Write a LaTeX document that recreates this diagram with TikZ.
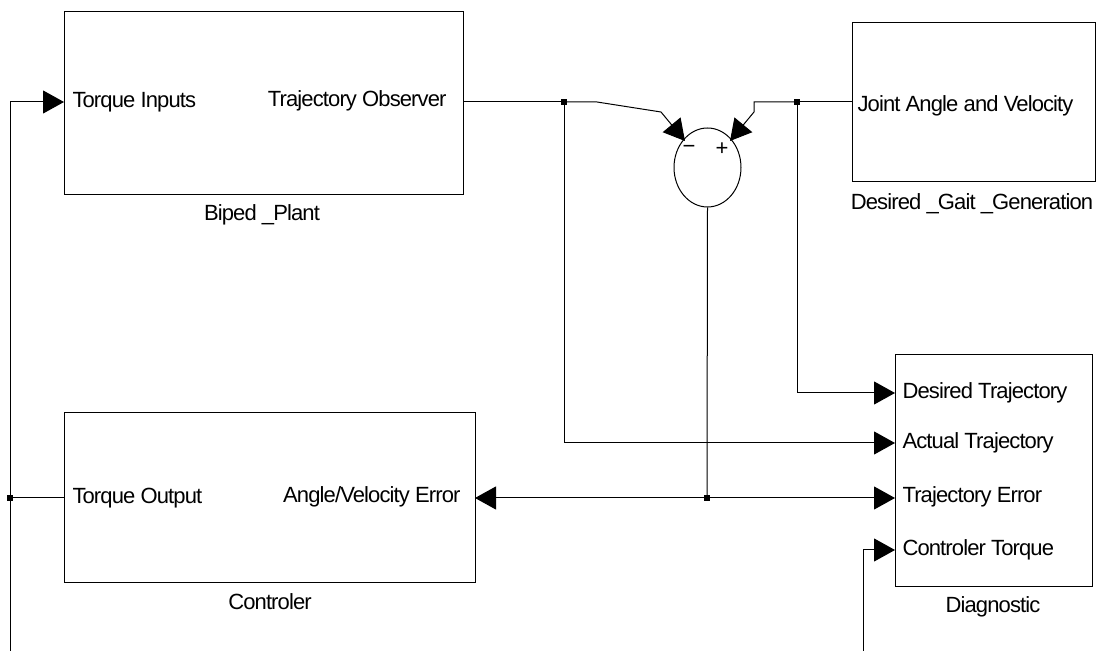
\documentclass[tikz,border=0pt]{standalone}
\usepackage{fontspec}
\setmainfont{Liberation Sans}[LetterSpace=-4]
\usetikzlibrary{arrows.meta,shapes.geometric}

\begin{document}
\begin{tikzpicture}[x=0.5pt, y=-0.5pt, line width=0.5pt,
		font=\fontsize{11pt}{13pt}\selectfont,
		>={Triangle[length=10.5pt,width=11.5pt]},
		block/.style={draw, inner sep=0pt, outer sep=0pt},
		port/.style={inner sep=0pt},
		dot/.style={fill, inner sep=0pt, outer sep=0pt, minimum size=2.8pt}]
		\useasboundingbox (0,0) rectangle (1099,651);
		% blocks
		\node[block, minimum width=199.5pt, minimum height=91.5pt] (plant) at (263.5,103.5) {};
		\node[block, minimum width=121.5pt, minimum height=79.5pt] (gait) at (973.5,102.5) {};
		\node[block, minimum width=205.5pt, minimum height=85pt] (ctrl) at (269.5,498) {};
		\node[block, minimum width=98.5pt, minimum height=116pt] (diag) at (993.5,471) {};
		\node[draw, ellipse, inner sep=0pt, minimum width=33.5pt, minimum height=39.5pt] (sum) at (707.5,167.5) {};
		% block names
		\node (plantname) at (262,215) {Biped \_Plant};
		\node (gaitname) at (972,204) {Desired \_Gait \_Generation};
		\node (ctrlname) at (270,602) {Controler};
		\node (diagname) at (993,607) {Diagnostic};
		% port texts
		\node[port, anchor=west] (tin) at (72,102) {Torque Inputs};
		\node[port, anchor=east] (tobs) at (447,101) {Trajectory Observer};
		\node[port, anchor=west] (jav) at (857,106) {Joint Angle and Velocity};
		\node[port, anchor=west] (tout) at (72,498) {Torque Output};
		\node[port, anchor=east] (averr) at (461,497) {Angle/Velocity Error};
		\node[port, anchor=west] (dtraj) at (902,393) {Desired Trajectory};
		\node[port, anchor=west] (atraj) at (902,443) {Actual Trajectory};
		\node[port, anchor=west] (terr) at (902,497) {Trajectory Error};
		\node[port, anchor=west] (ctorq) at (902,550) {Controler Torque};
		\node (minuslbl) at (689,149) {−};
		\node (pluslbl) at (722,149) {+};
		% junctions and bends
		\node[dot] (j1) at (564,102) {};
		\node[dot] (j2) at (797,102) {};
		\node[dot] (j3) at (707,498) {};
		\node[dot] (j4) at (10,498) {};
		\coordinate (a1) at (597,102);
		\coordinate (a2) at (661,112);
		\coordinate (minus) at (685,141);
		\coordinate (b1) at (754,102);
		\coordinate (b2) at (754,112);
		\coordinate (plus) at (730,141);
		\coordinate (ltop) at (10,102);
		\coordinate (lbot) at (10,651);
		\coordinate (cbot) at (863,651);
		\coordinate (dinD) at (895,393);
		\coordinate (dinA) at (895,443);
		\coordinate (dinE) at (895,498);
		\coordinate (dinC) at (895,550);
		% connectors
		\draw (plant.east |- j1) -- (j1);
		\draw[->] (j1) -- (a1) -- (a2) -- (minus);
		\draw (gait.west |- j2) -- (j2);
		\draw[->] (j2) -- (b1) -- (b2) -- (plus);
		\draw[->] (j1) -- (j1 |- dinA) -- (dinA);
		\draw[->] (j2) -- (j2 |- dinD) -- (dinD);
		\draw (sum.south) -- (j3);
		\draw[->] (j3) -- (ctrl.east |- j3);
		\draw[->] (j3) -- (dinE);
		\draw (ctrl.west |- j4) -- (j4);
		\draw (lbot) -- (j4);
		\draw[->] (j4) -- (ltop) -- (plant.west |- ltop);
		\draw[->] (cbot) -- (cbot |- dinC) -- (dinC);
\end{tikzpicture}
\end{document}
